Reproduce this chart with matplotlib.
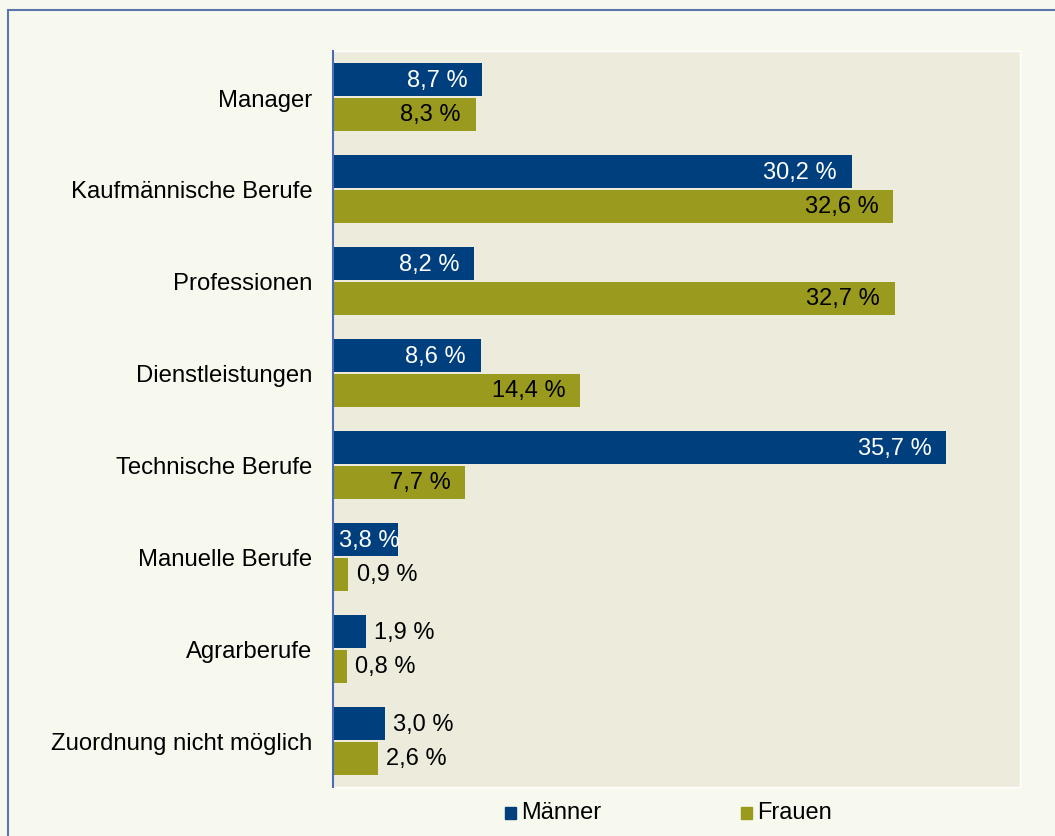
import matplotlib.pyplot as plt
import numpy as np
from matplotlib.patches import Rectangle

plt.rcParams['font.family'] = ['Liberation Sans', 'DejaVu Sans']

categories = ['Manager', 'Kaufmännische Berufe', 'Professionen', 'Dienstleistungen',
              'Technische Berufe', 'Manuelle Berufe', 'Agrarberufe',
              'Zuordnung nicht möglich']
maenner = [8.7, 30.2, 8.2, 8.6, 35.7, 3.8, 1.9, 3.0]
frauen = [8.3, 32.6, 32.7, 14.4, 7.7, 0.9, 0.8, 2.6]
series_names = ['Männer', 'Frauen']

col_m = '#003f7e'
col_f = '#9a9a1f'
fig_bg = '#f8f9ee'
ax_bg = '#edebdb'

W, H = 1055, 837
fig = plt.figure(figsize=(W / 100, H / 100), dpi=100, facecolor=fig_bg)
ax = fig.add_axes([333 / W, 1 - 788 / H, 687 / W, 736 / H])
ax.set_facecolor(ax_bg)

y = np.arange(len(categories))
h = 0.35
off = 0.19
ax.barh(y - off, maenner, height=h, color=col_m, label=series_names[0])
ax.barh(y + off, frauen, height=h, color=col_f, label=series_names[1])


def put_labels(values, ypos, inside_color):
    for v, yy in zip(values, ypos):
        txt = f'{v:.1f} %'.replace('.', ',')
        if v > 5:
            ax.text(v - 0.85, yy, txt, ha='right', va='center', fontsize=17, color=inside_color)
        elif v > 3.5:
            ax.text(0.35, yy, txt, ha='left', va='center', fontsize=17, color=inside_color)
        else:
            ax.text(v + 0.5, yy, txt, ha='left', va='center', fontsize=17, color='black')


put_labels(maenner, y - off, 'white')
put_labels(frauen, y + off, 'black')

ax.set_xlim(0, 40)
ax.set_ylim(len(categories) - 0.5, -0.5)
ax.set_yticks(y)
ax.set_yticklabels(categories, fontsize=17.2)
ax.tick_params(axis='y', length=0, pad=15)
ax.set_xticks([])
for s in ['top', 'right', 'bottom']:
    ax.spines[s].set_color('white')
    ax.spines[s].set_linewidth(1)
ax.spines['left'].set_color('#4a6db5')
ax.spines['left'].set_linewidth(1.5)
ax.spines['left'].set_zorder(5)

# legend entries
for name, col, x0 in zip(series_names, [col_m, col_f], [505, 741]):
    fig.patches.append(Rectangle((x0 / W, 1 - 820 / H), 11 / W, 12 / H,
                                 transform=fig.transFigure, color=col))
    fig.text((x0 + 16) / W, 1 - 813 / H, name, fontsize=17, va='center', ha='left')

# outer frame
fig.patches.append(Rectangle((8 / W, -0.1), 1.2, 1.1 - 11 / H, transform=fig.transFigure,
                             fill=False, edgecolor='#5a76ae', linewidth=1.5))

fig.savefig('out.png', dpi=100, facecolor=fig_bg)
